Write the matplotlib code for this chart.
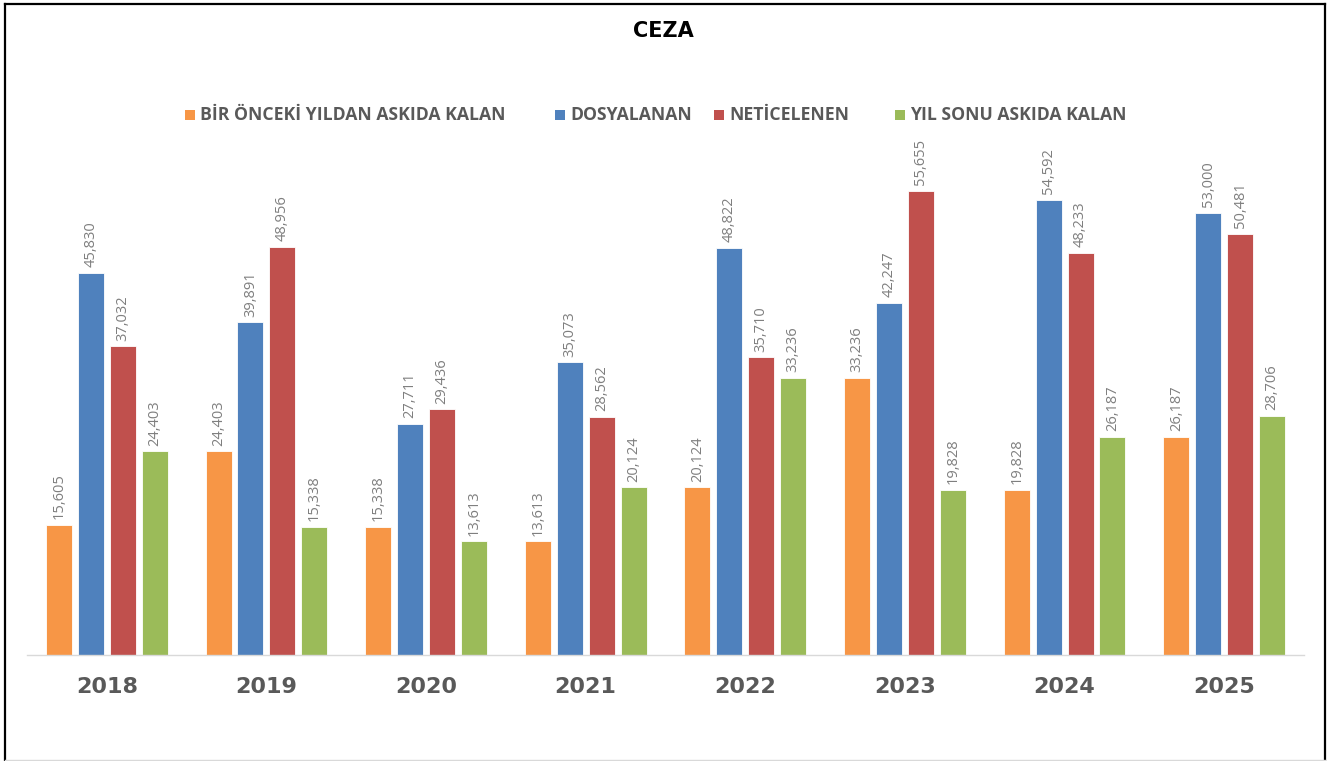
import matplotlib
matplotlib.use("Agg")
import matplotlib.pyplot as plt
from matplotlib.lines import Line2D
from matplotlib.patches import Rectangle
import numpy as np

years = ["2018", "2019", "2020", "2021", "2022", "2023", "2024", "2025"]
series_names = ["BİR ÖNCEKİ YILDAN ASKIDA KALAN", "DOSYALANAN", "NETİCELENEN", "YIL SONU ASKIDA KALAN"]
prev_pending = [15605, 24403, 15338, 13613, 20124, 33236, 19828, 26187]
filed = [45830, 39891, 27711, 35073, 48822, 42247, 54592, 53000]
concluded = [37032, 48956, 29436, 28562, 35710, 55655, 48233, 50481]
year_end_pending = [24403, 15338, 13613, 20124, 33236, 19828, 26187, 28706]
colors = ["#F79646", "#4F81BD", "#C0504D", "#9BBB59"]

W, H = 1339, 761
fig = plt.figure(figsize=(W / 100, H / 100), dpi=100)
fig.patch.set_facecolor("white")

ax = fig.add_axes([27 / W, (H - 655) / H, (1304 - 27) / W, (655 - 157) / H])
x = np.arange(len(years))
width = 0.163
step = 0.2
data = [prev_pending, filed, concluded, year_end_pending]
for k, (vals, c) in enumerate(zip(data, colors)):
    pos = x + (k - 1.5) * step
    bars = ax.bar(pos, vals, width=width, color=c, edgecolor="white", linewidth=0.6)
    for b, v in zip(bars, vals):
        ax.annotate(f"{v:,}", (b.get_x() + b.get_width() / 2, v), xytext=(0, 4),
                    textcoords="offset points", rotation=90, ha="center", va="bottom",
                    fontsize=10.5, color="#7F7F7F", family="Open Sans")

ax.set_xlim(-0.5, 7.5)
ax.set_ylim(0, 59700)
ax.set_xticks(x)
ax.set_xticklabels(years, fontsize=16, fontweight="bold", color="#595959", family="DejaVu Sans")
ax.tick_params(axis="x", length=0, pad=16)
ax.set_yticks([])
for s in ["top", "left", "right"]:
    ax.spines[s].set_visible(False)
ax.spines["bottom"].set_color("#D9D9D9")
ax.spines["bottom"].set_linewidth(1)

# title
fig.text(663 / W, 1 - 31 / H, "CEZA", ha="center", va="center", fontsize=15,
         fontweight="bold", color="#000000", family="DejaVu Sans")

# legend
leg_x = [185, 555, 714, 895]
ly = 115
for lx, name, c in zip(leg_x, series_names, colors):
    fig.add_artist(Rectangle((lx / W, 1 - (ly + 5) / H), 10 / W, 10 / H,
                             transform=fig.transFigure, facecolor=c, edgecolor="none"))
    fig.text((lx + 15) / W, 1 - ly / H, name, ha="left", va="center", fontsize=12.7,
             fontweight="bold", color="#595959", family="Open Sans")

# border frame
fig.add_artist(Line2D([5 / W, 5 / W], [0, 1 - 4 / H], transform=fig.transFigure, color="black", lw=1.6))
fig.add_artist(Line2D([5 / W, 1325 / W], [1 - 4 / H, 1 - 4 / H], transform=fig.transFigure, color="black", lw=1.6))
fig.add_artist(Line2D([1325 / W, 1325 / W], [0, 1 - 4 / H], transform=fig.transFigure, color="black", lw=1.6))
fig.add_artist(Line2D([5 / W, 1325 / W], [1 / H, 1 / H], transform=fig.transFigure, color="#D9D9D9", lw=1))

fig.savefig("out.png", dpi=100, facecolor="white")
